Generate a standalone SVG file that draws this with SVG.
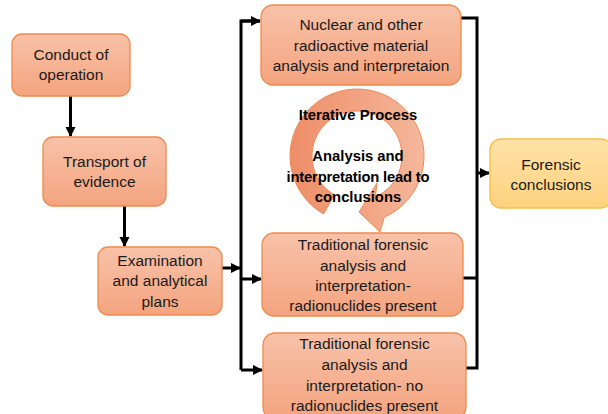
<svg xmlns="http://www.w3.org/2000/svg" width="608" height="414" viewBox="0 0 608 414">
<defs>
<linearGradient id="gBox" x1="0" y1="0" x2="0" y2="1">
<stop offset="0" stop-color="#F8C2A9"/>
<stop offset="1" stop-color="#F4A47F"/>
</linearGradient>
<linearGradient id="gYel" x1="0" y1="0" x2="0" y2="1">
<stop offset="0" stop-color="#FFE2A8"/>
<stop offset="1" stop-color="#FDD27E"/>
</linearGradient>
<linearGradient id="gRing" gradientUnits="userSpaceOnUse" x1="290" y1="0" x2="426" y2="0">
<stop offset="0" stop-color="#EE8D68"/>
<stop offset="1" stop-color="#F5B89C"/>
</linearGradient>
<marker id="ah" viewBox="0 0 10 10" refX="9" refY="5" markerWidth="3.5" markerHeight="3.5" orient="auto" markerUnits="strokeWidth">
<path d="M0,0 L10,5 L0,10 Z" fill="#000"/>
</marker>
<style>
.box{fill:url(#gBox);stroke:#F08A4A;stroke-width:1.3}
.yel{fill:url(#gYel);stroke:#F6BE45;stroke-width:1.3}
.t{font-family:"Liberation Sans",Arial,sans-serif;font-size:15.5px;fill:#1a1a1a;text-anchor:middle}
.b{font-family:"Liberation Sans",Arial,sans-serif;font-size:14.8px;font-weight:bold;fill:#000;text-anchor:middle}
.c{fill:none;stroke:#000;stroke-width:3}
</style>
</defs>
<rect width="608" height="414" fill="#fff"/>

<g id="connectors">
<line class="c" x1="70.5" y1="96" x2="70.5" y2="136" marker-end="url(#ah)"/>
<line class="c" x1="124.5" y1="206" x2="124.5" y2="246" marker-end="url(#ah)"/>
<line class="c" x1="222" y1="268" x2="240" y2="268" marker-end="url(#ah)"/>
<polyline class="c" points="260,21 241,21 241,370"/>
<line class="c" x1="241" y1="21" x2="260" y2="21" marker-end="url(#ah)"/>
<line class="c" x1="241" y1="279" x2="261" y2="279" marker-end="url(#ah)"/>
<line class="c" x1="241" y1="370" x2="262" y2="370" marker-end="url(#ah)"/>
<polyline class="c" points="461,18 477,18 477,368 466,368"/>
<line class="c" x1="463" y1="278" x2="477" y2="278"/>
<line class="c" x1="477" y1="173" x2="489" y2="173" marker-end="url(#ah)"/>
</g>

<g id="ring">
<path d="M323.5,214 A67,67 0 1 1 384.3,217.2 L380,232 L359,212 L377,183 L375.3,197.1 A45,45 0 1 0 334.5,195 Z" fill="url(#gRing)" stroke="#F08A58" stroke-width="1"/>
</g>

<g id="n1">
<rect class="box" x="12" y="34" width="118" height="62" rx="10"/>
<text class="t" x="71" y="60">Conduct of</text>
<text class="t" x="71" y="80">operation</text>
</g>
<g id="n2">
<rect class="box" x="43" y="137" width="123" height="69" rx="10"/>
<text class="t" x="104.5" y="167">Transport of</text>
<text class="t" x="104.5" y="187">evidence</text>
</g>
<g id="n3">
<rect class="box" x="98" y="247" width="124" height="68" rx="10"/>
<text class="t" x="160" y="266">Examination</text>
<text class="t" x="160" y="286">and analytical</text>
<text class="t" x="160" y="307">plans</text>
</g>
<g id="n4">
<rect class="box" x="261" y="5" width="200" height="80" rx="12"/>
<text class="t" x="361" y="30">Nuclear and other</text>
<text class="t" x="361" y="51">radioactive material</text>
<text class="t" x="361" y="71">analysis and interpretaion</text>
</g>
<g id="n5">
<rect class="box" x="262" y="233" width="201" height="83" rx="12"/>
<text class="t" x="363" y="250">Traditional forensic</text>
<text class="t" x="363" y="271">analysis and</text>
<text class="t" x="363" y="291">interpretation-</text>
<text class="t" x="363" y="311">radionuclides present</text>
</g>
<g id="n6">
<rect class="box" x="263" y="333" width="203" height="86" rx="12"/>
<text class="t" x="364.5" y="349">Traditional forensic</text>
<text class="t" x="364.5" y="370">analysis and</text>
<text class="t" x="364.5" y="391">interpretation- no</text>
<text class="t" x="364.5" y="411">radionuclides present</text>
</g>
<g id="n7">
<rect class="yel" x="490" y="139" width="122" height="69" rx="11"/>
<text class="t" x="551" y="170">Forensic</text>
<text class="t" x="551" y="190">conclusions</text>
</g>
<g id="labels">
<text class="b" x="358" y="120">Iterative Process</text>
<text class="b" x="358" y="161">Analysis and</text>
<text class="b" x="358" y="182" letter-spacing="-0.2">interpretation lead to</text>
<text class="b" x="358" y="202">conclusions</text>
</g>
</svg>
